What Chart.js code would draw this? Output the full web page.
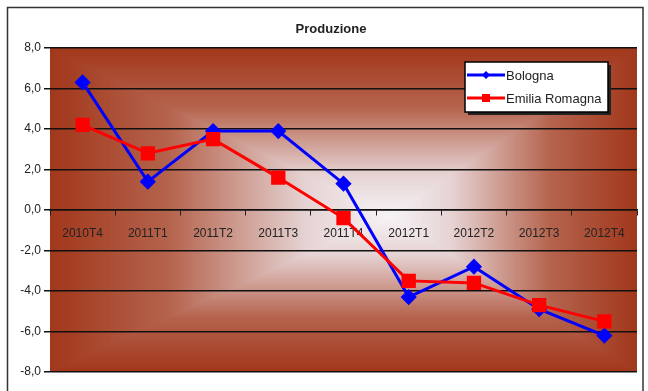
<!DOCTYPE html>
<html>
<head>
<meta charset="utf-8">
<script src="https://cdn.jsdelivr.net/npm/chart.js@4/dist/chart.umd.min.js"></script>
<style>
  html, body { margin: 0; padding: 0; background: #fff; }
  #wrap { width: 648px; height: 391px; position: relative; }
</style>
</head>
<body>
<div id="wrap"><canvas id="prodChart" width="648" height="391"></canvas></div>
<script>
// dati
const trimestri = ['2010T4', '2011T1', '2011T2', '2011T3', '2011T4', '2012T1', '2012T2', '2012T3', '2012T4'];
const bologna = [6.3, 1.4, 3.9, 3.9, 1.3, -4.3, -2.8, -4.9, -6.2];
const emiliaRomagna = [4.2, 2.8, 3.5, 1.6, -0.4, -3.5, -3.6, -4.7, -5.5];
const yTicks = [-8, -6, -4, -2, 0, 2, 4, 6, 8];

const FONT = '"Liberation Sans", Arial, sans-serif';

// colori del gradiente: bordo -> centro
const gradStops = [
    [0, [162, 56, 28]],
    [0.35, [181, 100, 78]],
    [0.75, [230, 211, 211]],
    [1, [246, 243, 246]]
];
function gradColor(t) {
    for (let i = 1; i < gradStops.length; i++) {
        if (t <= gradStops[i][0]) {
            const [t0, c0] = gradStops[i - 1];
            const [t1, c1] = gradStops[i];
            const k = (t - t0) / (t1 - t0);
            const c = c0.map((v, j) => Math.round(v + (c1[j] - v) * k));
            return 'rgb(' + c.join(',') + ')';
        }
    }
    return 'rgb(' + gradStops[gradStops.length - 1][1].join(',') + ')';
}

// sfondo a gradiente "dal centro" (rettangolare) + cornice + titolo
const sfondoPlugin = {
    id: 'sfondo',
    beforeDraw(chart) {
        const c = chart.ctx;
        const a = chart.chartArea;
        c.save();
        c.fillStyle = '#fff';
        c.fillRect(0, 0, chart.width, chart.height);
        c.strokeStyle = '#333';
        c.lineWidth = 1.5;
        c.strokeRect(7.5, 7.5, 635.5, 400);

        const cx = a.left + (a.right - a.left) * 0.58;
        const cy = a.top + (a.bottom - a.top) * 0.52;
        const steps = 240;
        for (let s = 0; s < steps; s++) {
            const t = s / steps;
            const l = a.left + t * (cx - a.left);
            const r = a.right - t * (a.right - cx);
            const tp = a.top + t * (cy - a.top);
            const b = a.bottom - t * (a.bottom - cy);
            c.fillStyle = gradColor(t);
            c.fillRect(l, tp, r - l, b - tp);
        }

        c.fillStyle = '#222';
        c.font = 'bold 13px ' + FONT;
        c.textAlign = 'center';
        c.textBaseline = 'middle';
        c.fillText('Produzione', 331, 29);
        c.restore();
    },
    afterDraw(chart) {
        // legenda nel riquadro bianco
        const c = chart.ctx;
        const x = 465, y = 62, w = 143, h = 50;
        c.save();
        c.fillStyle = '#222';
        c.fillRect(x + 3, y + 3, w, h);
        c.fillStyle = '#fff';
        c.fillRect(x, y, w, h);
        c.strokeStyle = '#000';
        c.lineWidth = 1.5;
        c.strokeRect(x, y, w, h);
        c.font = '13px ' + FONT;
        c.textBaseline = 'middle';
        c.textAlign = 'left';
        chart.data.datasets.forEach((ds, i) => {
            const ry = y + 13 + i * 23;
            c.strokeStyle = ds.borderColor;
            c.lineWidth = 3;
            c.beginPath();
            c.moveTo(x + 2, ry);
            c.lineTo(x + 40, ry);
            c.stroke();
            c.fillStyle = ds.borderColor;
            if (ds.pointStyle === 'rect') {
                c.fillRect(x + 17, ry - 4, 8, 8);
            } else {
                c.beginPath();
                c.moveTo(x + 21, ry - 4);
                c.lineTo(x + 25, ry);
                c.lineTo(x + 21, ry + 4);
                c.lineTo(x + 17, ry);
                c.closePath();
                c.fill();
            }
            c.fillStyle = '#222';
            c.fillText(ds.label, x + 41, ry + 1);
        });
        c.restore();
    }
};

new Chart(document.getElementById('prodChart'), {
    type: 'line',
    data: {
        labels: trimestri,
        datasets: [
            {
                label: 'Bologna',
                data: bologna,
                borderColor: '#0000ff',
                backgroundColor: '#0000ff',
                borderWidth: 3,
                pointStyle: 'rectRot',
                pointRadius: 6,
                pointHoverRadius: 6,
                tension: 0,
                order: 1
            },
            {
                label: 'Emilia Romagna',
                data: emiliaRomagna,
                borderColor: '#ff0000',
                backgroundColor: '#ff0000',
                borderWidth: 3,
                pointStyle: 'rect',
                pointRadius: 8,
                pointHoverRadius: 8,
                tension: 0,
                order: 0
            }
        ]
    },
    options: {
        responsive: false,
        animation: false,
        devicePixelRatio: 1,
        layout: { padding: { left: 0, right: 10, top: 48, bottom: 19 } },
        plugins: {
            legend: { display: false },
            title: { display: false },
            tooltip: { enabled: false }
        },
        scales: {
            x: {
                position: { y: 0 },
                offset: true,
                grid: {
                    offset: true,
                    drawOnChartArea: false,
                    drawTicks: true,
                    tickLength: 5,
                    color: '#222',
                    lineWidth: 1
                },
                border: { display: true, color: '#111', width: 1.5 },
                ticks: {
                    color: '#222',
                    font: { family: FONT, size: 12 },
                    padding: 11,
                    maxRotation: 0,
                    autoSkip: false
                }
            },
            y: {
                min: yTicks[0],
                max: yTicks[yTicks.length - 1],
                afterFit(scale) { scale.width = 50; },
                afterBuildTicks(scale) { scale.ticks = yTicks.map(v => ({ value: v })); },
                grid: {
                    color: '#111',
                    lineWidth: 1.5,
                    drawTicks: true,
                    tickLength: 6
                },
                border: { display: false },
                ticks: {
                    color: '#222',
                    font: { family: FONT, size: 12 },
                    padding: 3,
                    callback: v => v.toFixed(1).replace('.', ',')
                }
            }
        }
    },
    plugins: [sfondoPlugin]
});
</script>
</body>
</html>
